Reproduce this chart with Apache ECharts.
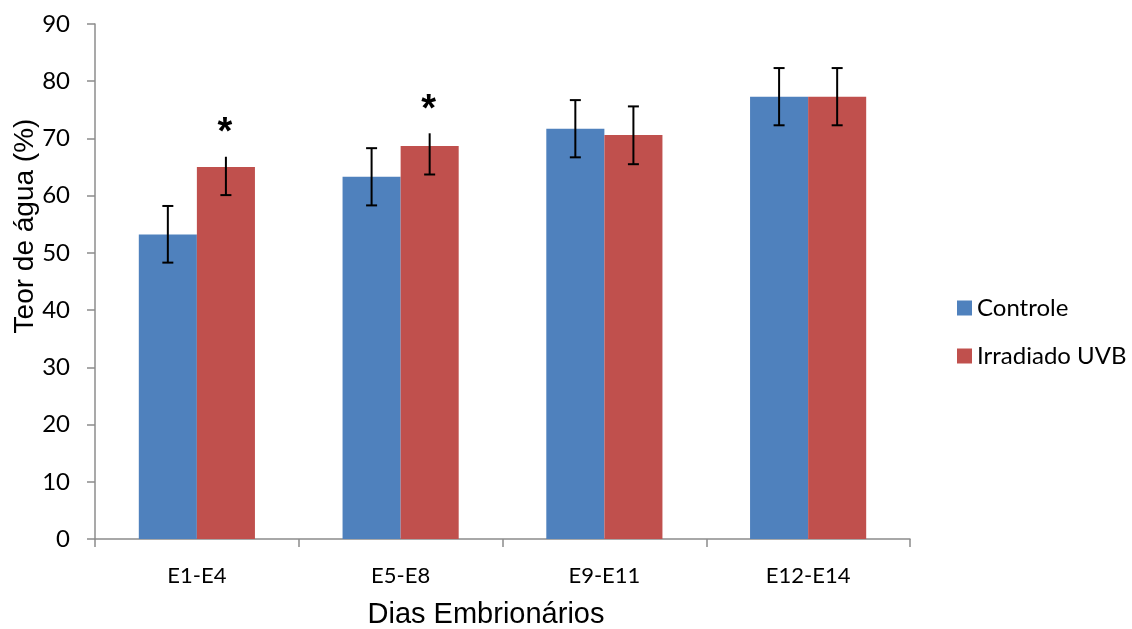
<!DOCTYPE html>
<html>
<head>
<meta charset="utf-8">
<script src="https://cdn.jsdelivr.net/npm/echarts@6/dist/echarts.min.js"></script>
<style>
html,body{margin:0;padding:0;background:#fff;}
#chart{width:1132px;height:629px;}
</style>
</head>
<body>
<div id="chart"></div>
<script>
// ---- data ----
const categories = ['E1-E4', 'E5-E8', 'E9-E11', 'E12-E14'];
const controle = [53.2, 63.3, 71.7, 77.3];
const controleLow = [48.3, 58.3, 66.7, 72.3];
const controleHigh = [58.2, 68.3, 76.7, 82.3];
const irradiado = [65.0, 68.7, 70.6, 77.3];
const irradiadoLow = [60.1, 63.7, 65.5, 72.3];
const irradiadoHigh = [66.8, 70.9, 75.6, 82.3];
const irradiadoHighCap = [false, false, true, true];
const controleHighCap = [true, true, true, true];
const significance = ['*', '*', '', ''];
const yTicks = [0, 10, 20, 30, 40, 50, 60, 70, 80, 90];
const seriesNames = ['Controle', 'Irradiado UVB'];

const CAT_GAP = 0.43;
const tickFont = 'Lato';

function errorRenderer(side) {
  return function (params, api) {
    const idx = api.value(0);
    const lo = api.coord([idx, api.value(1)]);
    const hi = api.coord([idx, api.value(2)]);
    const cap = api.value(3);
    const mark = api.value(4);
    const bandW = api.size([1, 0])[0];
    const barW = bandW * (1 - CAT_GAP) / 2;
    const x = lo[0] + side * barW / 2;
    const half = 5.5;
    const st = { stroke: '#000', lineWidth: 2 };
    const children = [
      { type: 'line', shape: { x1: x, y1: lo[1], x2: x, y2: hi[1] }, style: st },
      { type: 'line', shape: { x1: x - half, y1: lo[1], x2: x + half, y2: lo[1] }, style: st }
    ];
    if (cap) {
      children.push({ type: 'line', shape: { x1: x - half, y1: hi[1], x2: x + half, y2: hi[1] }, style: st });
    }
    if (mark) {
      children.push({
        type: 'text',
        style: {
          x: x - 1, y: hi[1] - 23,
          text: mark,
          font: 'bold 38px "Liberation Sans"',
          fill: '#000',
          align: 'center',
          verticalAlign: 'middle'
        }
      });
    }
    return { type: 'group', children: children };
  };
}

const chart = echarts.init(document.getElementById('chart'), null, { renderer: 'canvas' });

const option = {
  animation: false,
  backgroundColor: '#fff',
  grid: { left: 95, right: 222, top: 24, bottom: 90, containLabel: false },
  legend: {
    orient: 'vertical',
    left: 952,
    top: 291,
    itemWidth: 15,
    itemHeight: 15,
    itemGap: 24,
    icon: 'rect',
    data: seriesNames,
    textStyle: { fontFamily: tickFont, fontSize: 24, color: '#000', lineHeight: 24 }
  },
  xAxis: {
    type: 'category',
    data: categories,
    axisLine: { lineStyle: { color: '#8c8c8c', width: 1.5 } },
    axisTick: { show: true, length: 8, lineStyle: { color: '#8c8c8c', width: 1.5 } },
    axisLabel: { fontFamily: tickFont, fontSize: 22, color: '#000', margin: 26 },
    splitLine: { show: false }
  },
  yAxis: {
    type: 'value',
    min: 0, max: 90, interval: 10,
    axisLine: { show: true, lineStyle: { color: '#8c8c8c', width: 1.5 } },
    axisTick: { show: true, length: 8, lineStyle: { color: '#8c8c8c', width: 1.5 } },
    axisLabel: { fontFamily: tickFont, fontSize: 24, color: '#000', margin: 25,
      formatter: function (v) { return yTicks.indexOf(v) >= 0 ? String(v) : ''; } },
    splitLine: { show: false }
  },
  graphic: [
    {
      type: 'text',
      x: 25, y: 226,
      rotation: Math.PI / 2,
      style: {
        text: 'Teor de água (%)',
        font: '28px "Liberation Sans"',
        fill: '#000',
        align: 'center',
        verticalAlign: 'middle'
      }
    },
    {
      type: 'text',
      x: 486, y: 615,
      style: {
        text: 'Dias Embrionários',
        font: '29px "Liberation Sans"',
        fill: '#000',
        align: 'center',
        verticalAlign: 'middle'
      }
    }
  ],
  series: [
    {
      name: seriesNames[0],
      type: 'bar',
      data: controle,
      barGap: '0%',
      barCategoryGap: (CAT_GAP * 100) + '%',
      itemStyle: { color: '#4F81BD' }
    },
    {
      name: seriesNames[1],
      type: 'bar',
      data: irradiado,
      barGap: '0%',
      barCategoryGap: (CAT_GAP * 100) + '%',
      itemStyle: { color: '#C0504D' }
    },
    {
      type: 'custom',
      name: 'errC',
      renderItem: errorRenderer(-1),
      data: categories.map(function (c, i) { return [i, controleLow[i], controleHigh[i], controleHighCap[i] ? 1 : 0, '']; }),
      encode: { x: 0, y: [1, 2] },
      z: 10,
      silent: true
    },
    {
      type: 'custom',
      name: 'errI',
      renderItem: errorRenderer(1),
      data: categories.map(function (c, i) { return [i, irradiadoLow[i], irradiadoHigh[i], irradiadoHighCap[i] ? 1 : 0, significance[i]]; }),
      encode: { x: 0, y: [1, 2] },
      dimensions: ['x', 'lo', 'hi', 'cap', { name: 'mark', type: 'ordinal' }],
      z: 10,
      silent: true
    }
  ]
};
chart.setOption(option);
</script>
</body>
</html>
